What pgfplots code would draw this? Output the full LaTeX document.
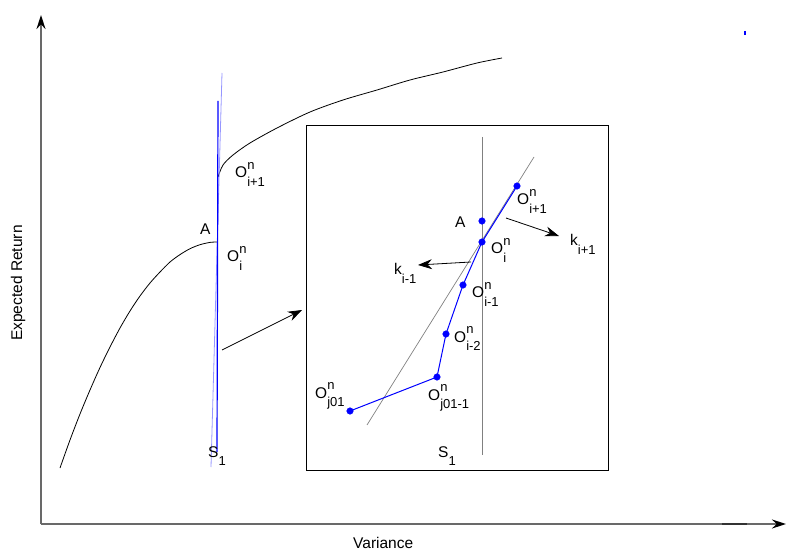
\documentclass[border=0pt]{standalone}
\usepackage{pgfplots}
\pgfplotsset{compat=1.18}
\usepackage{fontspec}
\setmainfont{Liberation Sans}
\usetikzlibrary{arrows.meta}
\newcommand{\sz}{\fontsize{13}{14}\selectfont}
\newcommand{\On}[1]{O\makebox[0pt][l]{\raisebox{8.5pt}{\sz n}}\raisebox{-8.5pt}{\sz #1}}
\newcommand{\Ks}[1]{k\raisebox{-8.5pt}{\sz #1}}
\definecolor{axgray}{RGB}{105,105,105}
\definecolor{lblue}{RGB}{150,150,255}
\tikzset{lab/.style={anchor=base west, font=\fontsize{15.5}{17}\selectfont, inner sep=0pt}}
\begin{document}
\begin{tikzpicture}
\begin{axis}[scale only axis, width=790pt, height=553pt,
  xmin=0, xmax=790, ymin=0, ymax=553, y dir=reverse,
  axis lines=none, clip=false]
% frame for bounding box
\addplot[draw=none] coordinates {(0,0) (790,553)};
% axes
\addplot[axgray, line width=1.4pt, -{Stealth[length=14pt,width=9pt,black]}] coordinates {(41,524) (41,15)};
\addplot[axgray, line width=1.4pt, -{Stealth[length=14pt,width=9pt,black]}] coordinates {(41,524) (786,524)};
\addplot[black!80, line width=1.4pt] coordinates {(722,524) (747,524)};
\addplot[blue, line width=2pt] coordinates {(745,31) (745,35)};
% frontier curves
\addplot[black, line width=0.8pt, smooth] coordinates {
(60,468) (70,440) (80,414) (90,390) (100,367.5) (110,347) (120,328) (130,311) (140,296) (150,283) (160,272) (170,262) (180,254.6) (190,248.7) (200,244.7) (210,242.4) (217,242)};
\addplot[black, line width=0.8pt, smooth] coordinates {
(218,177) (223,165) (233,155) (250,143) (277,128) (310,112) (343,100) (377,90) (410,80) (443,72) (477,63) (502,58)};
% blue lines
\addplot[lblue, line width=0.8pt] coordinates {(222,73) (211,467)};
\addplot[blue, line width=1.2pt] coordinates {(218,101) (217,452)};
% main labels
\node[lab] at (axis cs:200,235) {A};
\node[lab] at (axis cs:227,262) {\On{i}};
\node[lab] at (axis cs:235,178) {\On{i+1}};
\node[lab] at (axis cs:208,457) {S\raisebox{-8.5pt}{\sz 1}};
\node[lab] at (axis cs:353,548) {Variance};
\node[lab, rotate=90, anchor=center] at (axis cs:18,283) {Expected Return};
% pointer arrow
\addplot[black, line width=0.8pt, -{Stealth[length=14pt,width=10pt]}] coordinates {(222,350) (302,310)};
% inset box
\addplot[black, line width=0.9pt] coordinates {(306,125) (608,125) (608,470) (306,470) (306,125)};
% inset gray lines
\addplot[gray, line width=0.7pt] coordinates {(482,137) (482,455)};
\addplot[gray, line width=0.7pt] coordinates {(534,157) (367,425)};
% inset blue path
\addplot[blue, line width=1pt] coordinates {(350,411) (437,377) (446,334) (463,285) (482,242) (517,186)};
\addplot[blue, only marks, mark=*, mark size=3.3pt] coordinates {(350,411) (437,377) (446,334) (463,285) (482,242) (517,186) (482,221)};
% inset arrows
\addplot[black, line width=0.8pt, -{Stealth[length=14pt,width=10pt]}] coordinates {(506,218) (559,236)};
\addplot[black, line width=0.8pt, -{Stealth[length=14pt,width=10pt]}] coordinates {(471,262) (418,265)};
% inset labels
\node[lab] at (axis cs:455,228) {A};
\node[lab] at (axis cs:517,205) {\On{i+1}};
\node[lab] at (axis cs:491,254) {\On{i}};
\node[lab] at (axis cs:570,246) {\Ks{i+1}};
\node[lab] at (axis cs:394,275) {\Ks{i-1}};
\node[lab] at (axis cs:472,298) {\On{i-1}};
\node[lab] at (axis cs:454,342) {\On{i-2}};
\node[lab] at (axis cs:428,400) {\On{j01-1}};
\node[lab] at (axis cs:315,398) {\On{j01}};
\node[lab] at (axis cs:438,457) {S\raisebox{-8.5pt}{\sz 1}};
\end{axis}
\end{tikzpicture}
\end{document}
